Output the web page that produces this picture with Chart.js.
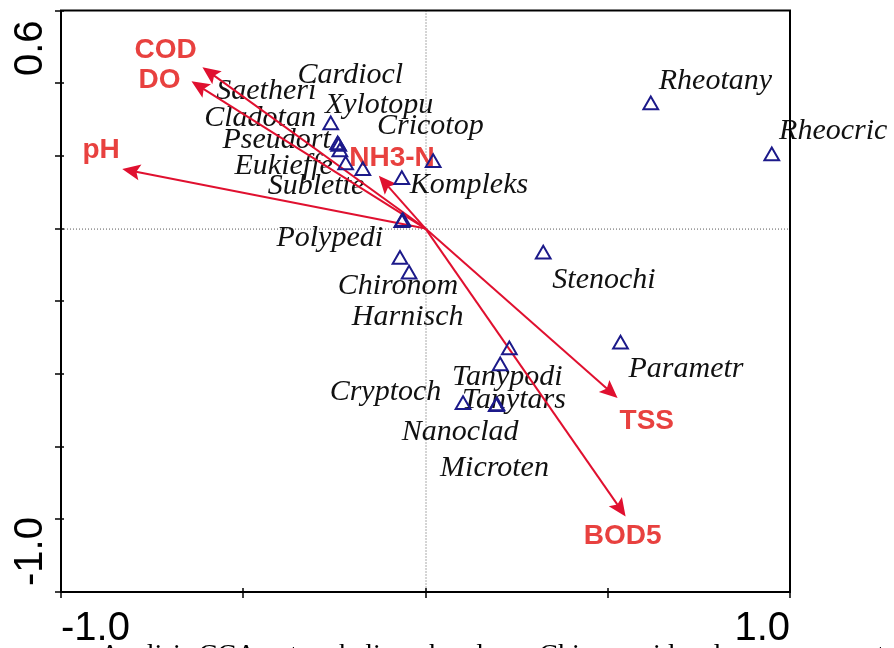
<!DOCTYPE html>
<html>
<head>
<meta charset="utf-8">
<script src="https://cdn.jsdelivr.net/npm/chart.js@4"></script>
<style>
  html, body { margin: 0; padding: 0; background: #fff; }
  #wrap { width: 894px; height: 648px; position: relative; }
</style>
</head>
<body>
<div id="wrap"><canvas id="cca"></canvas></div>
<script>
// species scores (axis 1, axis 2)
const species = ["Cardiocl", "Saetheri", "Xylotopu", "Cladotan", "Cricotop", "Pseudort", "Eukieffe",
  "Sublette", "Kompleks", "Polypedi", "Chironom", "Harnisch", "Stenochi", "Rheotany", "Rheocric",
  "Parametr", "Tanypodi", "Cryptoch", "Tanytars", "Nanoclad", "Microten"]
const speciesX = [-0.241, -0.235, -0.238, -0.260, 0.021, -0.172, -0.219,
  -0.065, -0.065, -0.062, -0.070, -0.045, 0.323, 0.618, 0.950,
  0.535, 0.230, 0.103, 0.194, 0.205, 0.196]
const speciesY = [0.230, 0.211, 0.226, 0.285, 0.181, 0.159, 0.175,
  0.016, 0.134, 0.019, -0.085, -0.126, -0.071, 0.340, 0.200,
  -0.318, -0.334, -0.485, -0.490, -0.378, -0.488]
// where CANOCO put the species names (left end of baseline)
const speciesLabelX = [-0.351, -0.574, -0.276, -0.607, -0.133, -0.557, -0.524,
  -0.433, -0.043, -0.409, -0.241, -0.202, 0.348, 0.640, 0.970,
  0.557, 0.073, -0.263, 0.100, -0.065, 0.040]
const speciesLabelY = [0.400, 0.356, 0.318, 0.282, 0.260, 0.222, 0.151,
  0.096, 0.099, -0.047, -0.181, -0.266, -0.164, 0.384, 0.247,
  -0.408, -0.430, -0.471, -0.493, -0.581, -0.682]

// environmental variables (arrow tips)
const envNames = ["COD", "DO", "pH", "NH3-N", "TSS", "BOD5"]
const envX = [-0.612, -0.642, -0.832, -0.128, 0.527, 0.549]
const envY = [0.444, 0.405, 0.164, 0.145, -0.466, -0.792]
const envLabelX = [-0.713, -0.730, -0.890, -0.092, 0.607, 0.541]
const envLabelY = [0.468, 0.386, 0.195, 0.173, -0.551, -0.868]

// axes
const xTicks = [-1.0, -0.5, 0, 0.5, 1.0]
const yTicks = [0.6, 0.4, 0.2, 0, -0.2, -0.4, -0.6, -0.8, -1.0]
const xTickLabels = ["-1.0", "1.0"]
const yTickLabels = ["0.6", "-1.0"]
const caption = "Analisis CCA antara kelimpahan larva Chironomidae dengan parameter kualitas air"

const RED = "#e0102f"
const LABEL_RED = "#e8413f"
const NAVY = "#1c1a8a"

const canvas = document.getElementById("cca")
canvas.width = 894
canvas.height = 648

const biplot = {
  id: "biplot",
  beforeDatasetsDraw(chart) {
    const { ctx, chartArea: a, scales: { x, y } } = chart
    ctx.save()

    // dotted zero lines
    ctx.strokeStyle = "#555"
    ctx.lineWidth = 1
    ctx.setLineDash([1, 2])
    ctx.beginPath()
    ctx.moveTo(x.getPixelForValue(0) + 0.5, a.top)
    ctx.lineTo(x.getPixelForValue(0) + 0.5, a.bottom)
    ctx.moveTo(a.left, y.getPixelForValue(0) + 0.5)
    ctx.lineTo(a.right, y.getPixelForValue(0) + 0.5)
    ctx.stroke()
    ctx.setLineDash([])

    // species names
    ctx.fillStyle = "#111"
    ctx.font = "italic 30px 'Liberation Serif', 'Times New Roman', serif"
    ctx.textAlign = "left"
    ctx.textBaseline = "alphabetic"
    species.forEach((name, i) => {
      ctx.fillText(name, x.getPixelForValue(speciesLabelX[i]), y.getPixelForValue(speciesLabelY[i]))
    })

    // environmental arrows
    const ox = x.getPixelForValue(0)
    const oy = y.getPixelForValue(0)
    envNames.forEach((name, i) => {
      const tx = x.getPixelForValue(envX[i])
      const ty = y.getPixelForValue(envY[i])
      const ang = Math.atan2(ty - oy, tx - ox)
      const headLen = 18
      const headW = 8
      const bx = tx - Math.cos(ang) * headLen
      const by = ty - Math.sin(ang) * headLen
      ctx.strokeStyle = RED
      ctx.lineWidth = 2
      ctx.beginPath()
      ctx.moveTo(ox, oy)
      ctx.lineTo(bx + Math.cos(ang) * 4, by + Math.sin(ang) * 4)
      ctx.stroke()
      ctx.fillStyle = RED
      ctx.beginPath()
      ctx.moveTo(tx, ty)
      ctx.lineTo(bx - Math.sin(ang) * headW, by + Math.cos(ang) * headW)
      ctx.lineTo(tx - Math.cos(ang) * headLen * 0.8, ty - Math.sin(ang) * headLen * 0.8)
      ctx.lineTo(bx + Math.sin(ang) * headW, by - Math.cos(ang) * headW)
      ctx.closePath()
      ctx.fill()
    })

    ctx.fillStyle = LABEL_RED
    ctx.font = "bold 28px 'Liberation Sans', Arial, sans-serif"
    ctx.textAlign = "center"
    envNames.forEach((name, i) => {
      ctx.fillText(name, x.getPixelForValue(envLabelX[i]), y.getPixelForValue(envLabelY[i]))
    })
    ctx.restore()
  },
  afterDraw(chart) {
    const { ctx, chartArea: a, scales: { x, y } } = chart
    ctx.save()

    // frame
    ctx.strokeStyle = "#000"
    ctx.lineWidth = 2
    ctx.strokeRect(a.left, a.top, a.right - a.left, a.bottom - a.top)

    // ticks
    ctx.lineWidth = 1.5
    ctx.beginPath()
    yTicks.forEach((v) => {
      const py = Math.round(y.getPixelForValue(v))
      ctx.moveTo(a.left - 6, py)
      ctx.lineTo(a.left + 3, py)
    })
    xTicks.forEach((v) => {
      const px = Math.round(x.getPixelForValue(v))
      ctx.moveTo(px, a.bottom - 4)
      ctx.lineTo(px, a.bottom + 6)
    })
    ctx.stroke()

    // tick labels, kept inside the frame ends like CANOCO does
    ctx.fillStyle = "#000"
    ctx.font = "40px 'Liberation Sans', Arial, sans-serif"
    ctx.textBaseline = "alphabetic"
    ctx.textAlign = "left"
    ctx.fillText(xTickLabels[0], x.getPixelForValue(-1.0), a.bottom + 48)
    ctx.textAlign = "right"
    ctx.fillText(xTickLabels[1], x.getPixelForValue(1.0), a.bottom + 48)

    ctx.save()
    ctx.translate(a.left - 19, y.getPixelForValue(0.6) + 10)
    ctx.rotate(-Math.PI / 2)
    ctx.textAlign = "right"
    ctx.fillText(yTickLabels[0], 0, 0)
    ctx.restore()
    ctx.save()
    ctx.translate(a.left - 19, y.getPixelForValue(-1.0) - 6)
    ctx.rotate(-Math.PI / 2)
    ctx.textAlign = "left"
    ctx.fillText(yTickLabels[1], 0, 0)
    ctx.restore()

    // caption of the page below, mostly cut off
    ctx.fillStyle = "#fff"
    ctx.fillRect(0, 641, chart.width, 10)
    ctx.fillStyle = "#000"
    ctx.font = "28px 'Liberation Serif', 'Times New Roman', serif"
    ctx.textAlign = "left"
    ctx.fillText(caption, 100, 663)
    ctx.restore()
  }
}

new Chart(canvas.getContext("2d"), {
  type: "scatter",
  data: {
    datasets: [{
      label: "species",
      data: species.map((s, i) => ({ x: speciesX[i], y: speciesY[i] })),
      pointStyle: "triangle",
      pointRadius: 8.5,
      pointHoverRadius: 8.5,
      borderColor: NAVY,
      backgroundColor: "rgba(0,0,0,0)",
      borderWidth: 2,
    }],
  },
  options: {
    responsive: false,
    animation: false,
    events: [],
    layout: { padding: { left: 61, right: 104, top: 9, bottom: 56 } },
    plugins: { legend: { display: false }, tooltip: { enabled: false } },
    scales: {
      x: { type: "linear", min: -1.0, max: 1.0, display: false },
      y: { type: "linear", min: -1.0, max: 0.6, display: false },
    },
  },
  plugins: [biplot],
})
</script>
</body>
</html>
